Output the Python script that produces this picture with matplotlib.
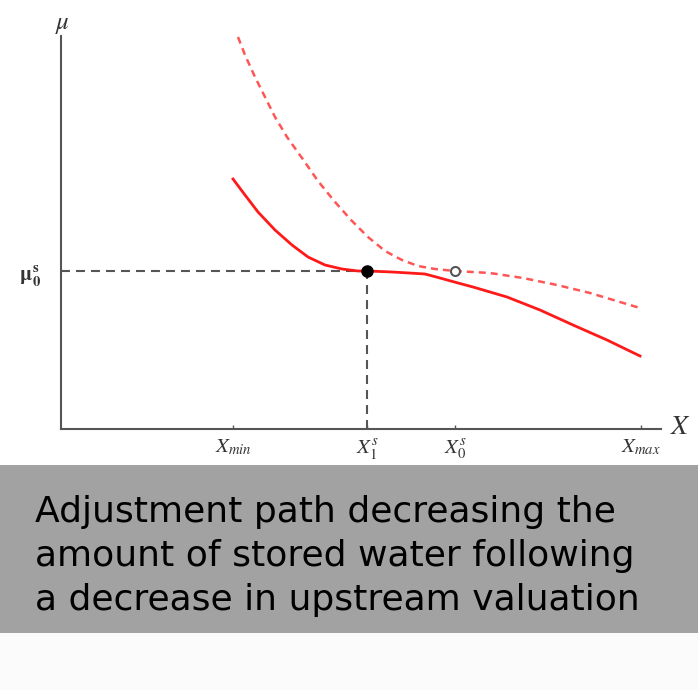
import numpy as np
import matplotlib.pyplot as plt
from matplotlib.patches import Rectangle

# curve points (x, mu) in chart units
solid_x = [172, 184, 197, 214, 231, 247, 264, 281, 297, 307, 331, 348, 364, 379, 397, 412, 446, 479, 512, 546, 579]
solid_y = [250, 234, 217, 199, 184, 172, 164, 160, 158, 158, 157, 156, 155, 151, 146, 142, 132, 119, 104, 89, 73]

dashed_x = [177, 184, 194, 204, 214, 226, 241, 257, 274, 291, 307, 324, 341, 357, 374, 394, 429, 462, 496, 529, 579]
dashed_y = [392, 374, 352, 332, 312, 292, 271, 248, 227, 208, 192, 178, 169, 163, 160, 158, 156, 151, 144, 136, 121]

tick_pos = [172, 306, 394, 580]
tick_labels = [r"$X_{min}$", r"$X_1^s$", r"$X_0^s$", r"$X_{max}$"]
mu0 = 158
x1 = 306
x0 = 394

caption_lines = ["Adjustment path decreasing the",
                 "amount of stored water following",
                 "a decrease in upstream valuation"]

plt.rcParams['mathtext.fontset'] = 'stix'

W, H = 698, 690
fig = plt.figure(figsize=(W / 100, H / 100), dpi=100)
fig.patch.set_facecolor("white")

# background bands
fig.patches.append(Rectangle((0, 0), 1, 1 - 633 / H, transform=fig.transFigure,
                             facecolor="#fbfbfb", edgecolor="none", zorder=0))
fig.patches.append(Rectangle((0, 1 - 633 / H), 1, (633 - 465) / H, transform=fig.transFigure,
                             facecolor="#a2a2a2", edgecolor="none", zorder=0))

ax = fig.add_axes([61 / W, 1 - 429 / H, 600 / W, (429 - 36) / H])
ax.set_xlim(0, 600)
ax.set_ylim(0, 393)
ax.patch.set_alpha(0)

for s in ["top", "right"]:
    ax.spines[s].set_visible(False)
for s in ["left", "bottom"]:
    ax.spines[s].set_color("#555555")
    ax.spines[s].set_linewidth(1.5)

ax.set_xticks(tick_pos)
ax.set_xticklabels(tick_labels, fontsize=15, color="#333333")
ax.tick_params(axis="x", direction="in", length=3, width=1, color="#555555", pad=6)
ax.set_yticks([mu0])
ax.set_yticklabels([r"$\mathbf{\mu_0^s}$"], fontsize=15, color="#333333")
ax.tick_params(axis="y", length=0, pad=14)

# guides
ax.plot([0, x1], [mu0, mu0], color="#555555", lw=1.5, dashes=(4.3, 2.9))
ax.plot([x1, x1], [0, mu0], color="#555555", lw=1.5, dashes=(4.3, 2.9))

# curves
ax.plot(dashed_x, dashed_y, color="#ff5555", lw=1.8, dashes=(2.8, 2.0), clip_on=False)
ax.plot(solid_x, solid_y, color="#ff1a1a", lw=2.0, clip_on=False)

ax.plot([x1], [mu0], "o", color="black", ms=8, zorder=5)
ax.plot([x0], [mu0], "o", mfc="white", mec="#555555", mew=1.5, ms=6.5, zorder=5)

ax.annotate(r"$\mu$", xy=(0, 1), xycoords="axes fraction", xytext=(1, 9),
            textcoords="offset points", ha="center", va="center", fontsize=18, color="#333333")
ax.annotate(r"$X$", xy=(1, 0), xycoords="axes fraction", xytext=(14, 2),
            textcoords="offset points", ha="center", va="center", fontsize=20, color="#333333")

for i, line in enumerate(caption_lines):
    fig.text(35 / W, 1 - (522 + 44 * i) / H, line, fontsize=26, family="DejaVu Sans",
             color="black", ha="left", va="baseline")

fig.savefig("out.png", dpi=100)
